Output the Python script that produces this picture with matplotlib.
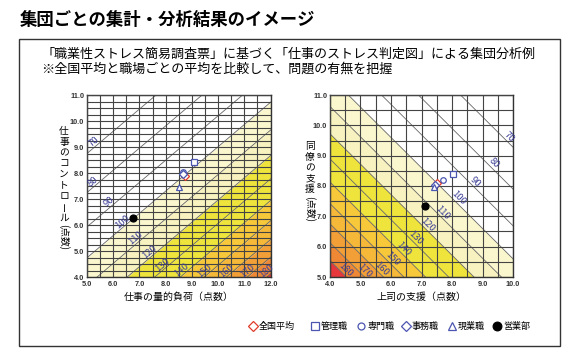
import matplotlib
matplotlib.use("Agg")
import matplotlib.pyplot as plt
import numpy as np
from matplotlib.lines import Line2D
from matplotlib.patches import Rectangle

plt.rcParams["font.family"] = ["Noto Sans CJK JP", "DejaVu Sans"]

W, H = 572, 353

TITLE = "集団ごとの集計・分析結果のイメージ"
SUB1 = "「職業性ストレス簡易調査票」に基づく「仕事のストレス判定図」による集団分析例"
SUB2 = "※全国平均と職場ごとの平均を比較して、問題の有無を把握"

risk_levels = [70, 80, 90, 100, 110, 120, 130, 140, 150, 160, 170, 180]

# left chart: iso-risk lines  y = ctrl_slope * x + ctrl_icpt
ctrl_slope = 0.854
ctrl_icpt = [4.48, 2.98, 1.66, 0.47, -0.60, -1.58, -2.48, -3.31, -4.09, -4.81, -5.49, -6.13]
ctrl_label_x = [5.38, 5.35, 5.96, 6.46, 6.97, 7.49, 7.98, 8.73, 9.59, 10.43, 11.22, 11.96]

# right chart: iso-risk lines  x + y = sup_total
sup_total = [19.28, 17.90, 16.69, 15.60, 14.62, 13.72, 12.89, 12.13, 11.42, 10.75, 10.13, 9.54]
sup_label_x = [9.78, 9.26, 8.65, 8.10, 7.60, 7.10, 6.70, 6.32, 5.94, 5.58, 5.02, 4.40]

# colour of the band that starts at each level (100 and above)
band_start = [100, 110, 120, 130, 140, 150, 160, 170, 180]
band_colors = ["#faf7cf", "#f7f2bf", "#eee43c", "#eee43c", "#f6c83a",
               "#f5b838", "#f29f38", "#ee8834", "#e6383c"]

groups = ["全国平均", "管理職", "専門職", "事務職", "現業職", "営業部"]
load_x = [8.72, 9.10, 8.65, 8.68, 8.52, 6.74]
ctrl_y = [7.88, 8.42, 8.03, 7.96, 7.48, 6.26]
boss_x = [7.52, 8.02, 7.72, 7.44, 7.40, 7.11]
peer_y = [8.11, 8.40, 8.20, 8.03, 7.98, 7.35]

RED = "#e23a2a"
BLUE = "#4a56b0"
styles = [
    dict(marker="D", mfc="white", mec=RED, ms=4.0),
    dict(marker="s", mfc="white", mec=BLUE, ms=4.5),
    dict(marker="o", mfc="white", mec=BLUE, ms=4.0),
    dict(marker="D", mfc="white", mec=BLUE, ms=4.0),
    dict(marker="^", mfc="white", mec=BLUE, ms=4.5),
    dict(marker="o", mfc="black", mec="black", ms=5.0),
]

TICK_FONT = dict(family="Liberation Sans", weight="bold", size=5.3)


def fig_rect(x0, y0, x1, y1):
    return [x0 / W, 1 - y1 / H, (x1 - x0) / W, (y1 - y0) / H]


def style_axes(ax, xlim, ylim, ystep):
    ax.set_xlim(*xlim)
    ax.set_ylim(*ylim)
    xt = np.arange(xlim[0], xlim[1] + 0.01, 1.0)
    yt = np.arange(ylim[0], ylim[1] + 0.01, 1.0)
    ax.set_xticks(xt)
    ax.set_yticks(yt)
    ax.set_xticklabels([f"{v:.1f}" for v in xt], fontdict=TICK_FONT, color="#333")
    ax.set_yticklabels([f"{v:.1f}" for v in yt], fontdict=TICK_FONT, color="#333")
    ax.set_xticks(np.arange(xlim[0], xlim[1] + 0.01, 0.5), minor=True)
    ax.set_yticks(np.arange(ylim[0], ylim[1] + 0.01, ystep), minor=True)
    ax.tick_params(which="both", length=0)
    ax.tick_params(axis="x", pad=3)
    ax.tick_params(axis="y", pad=2)
    ax.set_axisbelow(False)
    ax.grid(which="both", color="#444444", lw=0.8, zorder=3)
    for s in ax.spines.values():
        s.set_color("#333333")
        s.set_linewidth(1.0)


def vertical_label(ov, x, y0, chars, tail, step=10.8, fs=7.0):
    y = y0
    for ch in chars:
        rot = 90 if ch == "ー" else 0
        ov.text(x, y, ch, fontsize=fs, ha="center", va="center", rotation=rot)
        y += step
    ov.text(x, y - step * 0.5 + 14, tail, fontsize=fs, ha="center", va="center",
            rotation=-90, rotation_mode="anchor")


fig = plt.figure(figsize=(W / 100, H / 100), dpi=100)

ov = fig.add_axes([0, 0, 1, 1])
ov.set_xlim(0, W)
ov.set_ylim(H, 0)
ov.axis("off")
ov.set_zorder(10)
ov.add_patch(Rectangle((19, 39), 541, 307, fill=False, ec="#333333", lw=1.0))
ov.text(20, 20, TITLE, fontsize=12.5, fontweight="bold", ha="left", va="center")
ov.text(41, 54, SUB1, fontsize=9.4, ha="left", va="center")
ov.text(41, 69, SUB2, fontsize=9.4, ha="left", va="center")

# ---- left chart: 量的負荷 × コントロール
ax1 = fig.add_axes(fig_rect(87, 95, 270.5, 277))
xs = np.linspace(4, 13, 200)
for i, lvl in enumerate(band_start):
    k = risk_levels.index(lvl)
    upper = ctrl_slope * xs + ctrl_icpt[k]
    if k + 1 < len(risk_levels):
        lower = ctrl_slope * xs + ctrl_icpt[k + 1]
    else:
        lower = np.full_like(xs, -20)
    ax1.fill_between(xs, lower, upper, color=band_colors[i], lw=0, zorder=1)
for b in ctrl_icpt:
    ax1.plot(xs, ctrl_slope * xs + b, color="#666666", lw=0.6, zorder=2)
ang1 = np.degrees(np.arctan(ctrl_slope))
for lvl, b, lx in zip(risk_levels, ctrl_icpt, ctrl_label_x):
    ax1.text(lx, ctrl_slope * lx + b, str(lvl), fontsize=6.8, color="#3c3f95",
             rotation=ang1, rotation_mode="anchor", ha="center", va="bottom", zorder=4)
style_axes(ax1, (5.0, 12.0), (4.0, 11.0), 0.25)

# ---- right chart: 上司の支援 × 同僚の支援
ax2 = fig.add_axes(fig_rect(330, 95, 513, 277))
xs = np.linspace(3, 11, 200)
for i, lvl in enumerate(band_start):
    k = risk_levels.index(lvl)
    upper = sup_total[k] - xs
    if k + 1 < len(risk_levels):
        lower = sup_total[k + 1] - xs
    else:
        lower = np.full_like(xs, -20)
    ax2.fill_between(xs, lower, upper, color=band_colors[i], lw=0, zorder=1)
for t in sup_total:
    ax2.plot(xs, t - xs, color="#666666", lw=0.6, zorder=2)
for lvl, t, lx in zip(risk_levels, sup_total, sup_label_x):
    ax2.text(lx, t - lx, str(lvl), fontsize=6.8, color="#3c3f95",
             rotation=-45, rotation_mode="anchor", ha="center", va="bottom", zorder=4)
style_axes(ax2, (4.0, 10.0), (5.0, 11.0), 0.5)

for i in range(len(groups)):
    ax1.plot(load_x[i], ctrl_y[i], ls="none", mew=0.9, zorder=5, clip_on=False, **styles[i])
    ax2.plot(boss_x[i], peer_y[i], ls="none", mew=0.9, zorder=5, clip_on=False, **styles[i])

# axis labels
ov.text(178.7, 297, "仕事の量的負荷（点数）", fontsize=7.2, ha="center", va="center")
ov.text(421.5, 297, "上司の支援（点数）", fontsize=7.2, ha="center", va="center")
vertical_label(ov, 64, 131, "仕事のコントロール", "(点数)")
vertical_label(ov, 310, 146, "同僚の支援", "(点数)")

# legend
leg_x = [253, 315, 361, 406, 452, 497]
for i, name in enumerate(groups):
    st = dict(styles[i])
    st["ms"] = st["ms"] * 1.25
    ov.add_line(Line2D([leg_x[i]], [326], ls="none", mew=0.9, **st))
    ov.text(leg_x[i] + 6, 326, name, fontsize=6.5, ha="left", va="center")

fig.savefig("out.png", dpi=100)
